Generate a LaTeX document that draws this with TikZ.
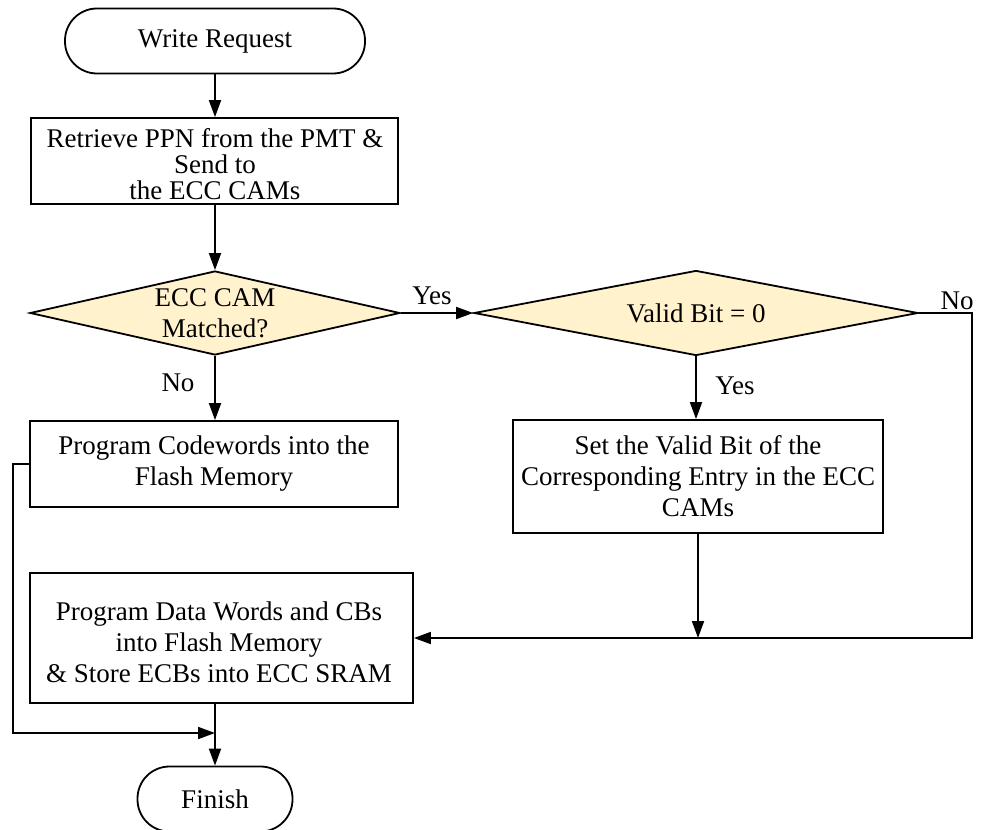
\documentclass[tikz,border=0pt]{standalone}
\usepackage{fontspec}
\setmainfont{Liberation Serif}
\usetikzlibrary{arrows.meta,shapes.geometric}
\definecolor{decfill}{HTML}{FFF2CC}
\tikzset{
  x=1pt, y=-1pt,
  every node/.style={font=\fontsize{27}{31}\selectfont, inner sep=0pt},
  proc/.style={draw, line width=1.8pt, minimum width=#1},
  txt/.style={align=center},
  term/.style={draw, line width=1.8pt, rounded corners=32pt, minimum height=65pt, minimum width=#1},
  decision/.style={draw, line width=1.8pt, fill=decfill, diamond, minimum width=#1},
  arr/.style={line width=1.8pt, -{Triangle[length=17pt,width=12pt]}},
  lbl/.style={font=\fontsize{27}{31}\selectfont}
}
\begin{document}
\begin{tikzpicture}
\useasboundingbox (0,0) rectangle (984,829);
\clip (0,0) rectangle (984,829);

% terminators
\node[term=300pt] (wr) at (215,41) {Write Request};
\node[term=155pt] (fin) at (215,799) {Finish};

% process boxes (frames), with their texts placed separately
\node[proc=367pt, minimum height=86pt] (b1) at (214.5,161) {};
\node[txt, font=\fontsize{27}{26}\selectfont] (b1t) at (215,164)
  {Retrieve PPN from the PMT \&\\Send to\\the ECC CAMs};
\node[proc=368pt, minimum height=86pt] (pc) at (214,464) {};
\node[txt] (pct) at (214,464)
  {Program Codewords into the\\Flash Memory};
\node[proc=370pt, minimum height=113pt] (sv) at (698,476.5) {};
\node[txt] (svt) at (698,476.5)
  {Set the Valid Bit of the\\Corresponding Entry in the ECC\\CAMs};
\node[proc=383pt, minimum height=130pt] (pd) at (221.5,638) {};
\node[txt] (pdt) at (219,642)
  {Program Data Words and CBs\\into Flash Memory\\\& Store ECBs into ECC SRAM};

% decisions
\node[decision=370pt, minimum height=84pt] (d1) at (215,313) {};
\node[txt] (d1t) at (d1.center) {ECC CAM\\Matched?};
\node[decision=444pt, minimum height=85pt] (d2) at (696,313) {};
\node (d2t) at (d2.center) {Valid Bit = 0};

% junction points
\coordinate (rt) at (972,313);
\coordinate (jn) at (215,733);

% connectors
\draw[arr] (wr.south) -- (wr.south |- b1.north);
\draw[arr] (wr.south |- b1.south) -- (d1.north);
\draw[arr] (d1.east) -- (d2.west);
\draw[arr] (d1.south) -- (d1.south |- pc.north);
\draw[arr] (d2.south) -- (d2.south |- sv.north);
\draw[arr] (d2.east) -- (rt) |- (pd.east);
\draw[arr] (sv.south) -- (sv.south |- pd.east);
\draw[arr] (pc.west) -- ++(-16,0) |- (jn);
\draw[arr] (fin.north |- pd.south) -- (fin.north);

% branch labels
\node[lbl] (ly1) at (432,296) {Yes};
\node[lbl] (ln1) at (178,383) {No};
\node[lbl] (ly2) at (735,386) {Yes};
\node[lbl] (ln2) at (957,301) {No};
\end{tikzpicture}
\end{document}
